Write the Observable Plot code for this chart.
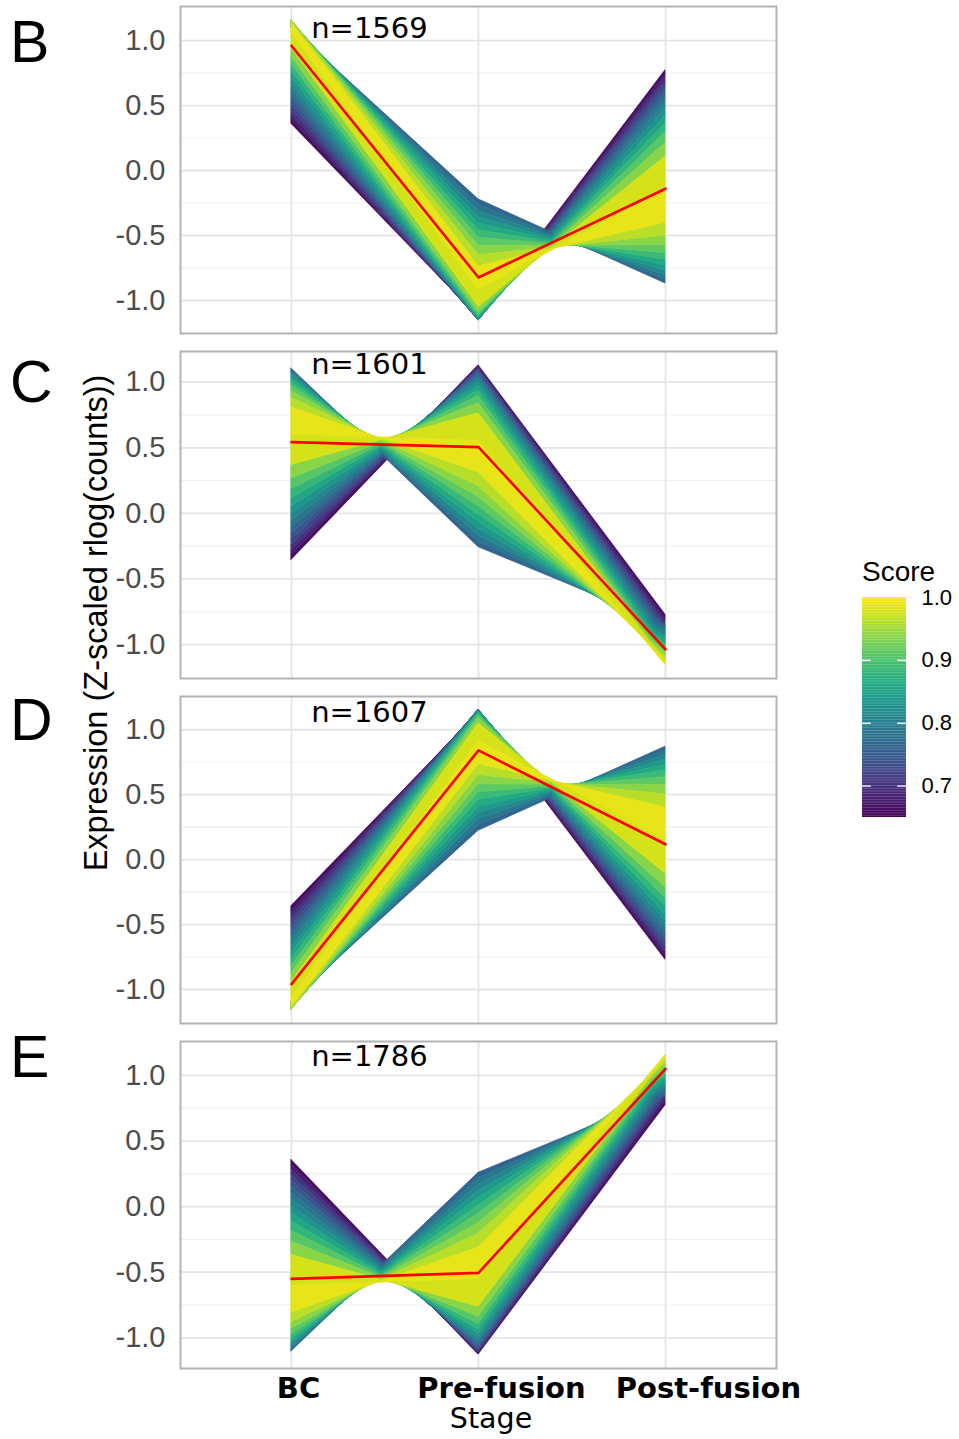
<!DOCTYPE html>
<html><head><meta charset="utf-8">
<script src="https://cdn.jsdelivr.net/npm/d3@7"></script>
<script src="https://cdn.jsdelivr.net/npm/@observablehq/plot@0.6"></script>
<style>
body{margin:0;background:#fff;}
#root{position:relative;width:959px;height:1439px;overflow:hidden;background:#fff;}
#root > svg{position:absolute;}
</style></head><body><div id="root"></div>
<script>
// ---------------- data ----------------
const stages = ["BC", "Pre-fusion", "Post-fusion"];
const panelNames = ["B", "C", "D", "E"];
const counts = [1569, 1601, 1607, 1786];
const yTicks = [-1, -0.5, 0, 0.5, 1];
const yMinor = [-0.75, -0.25, 0.25, 0.75];
const scoreTicks = [0.7, 0.8, 0.9, 1.0];

// mean (red) profiles: BC, Pre-fusion, Post-fusion
const meanB = [0.96, -0.823, -0.14];
const meanC = [0.543, 0.505, -1.037];
const meanD = [-0.959, 0.841, 0.118];
const meanE = [-0.551, -0.505, 1.05];

// fan edges read per score level: [score, BC, Pre-fusion, Post-fusion]
const bLong = [
  [1.000, 1.067, -0.916, -0.151], [0.954, 0.942, -1.049, 0.107], [0.922, 0.876, -1.090, 0.214],
  [0.894, 0.819, -1.114, 0.296], [0.868, 0.768, -1.131, 0.363], [0.843, 0.719, -1.142, 0.422],
  [0.820, 0.674, -1.149, 0.475], [0.797, 0.630, -1.153, 0.523], [0.775, 0.588, -1.155, 0.566],
  [0.753, 0.548, -1.154, 0.607], [0.732, 0.508, -1.152, 0.644], [0.711, 0.469, -1.148, 0.679],
  [0.690, 0.431, -1.143, 0.712], [0.670, 0.394, -1.137, 0.743], [0.650, 0.358, -1.130, 0.772]
];
const bShort = [
  [1.000, 1.067, -0.916, -0.151], [0.975, 1.138, -0.737, -0.401], [0.950, 1.151, -0.651, -0.501],
  [0.925, 1.155, -0.580, -0.574], [0.900, 1.153, -0.518, -0.635], [0.875, 1.147, -0.461, -0.686],
  [0.850, 1.140, -0.408, -0.731], [0.825, 1.130, -0.359, -0.771], [0.800, 1.119, -0.311, -0.807],
  [0.775, 1.106, -0.266, -0.840], [0.750, 1.092, -0.222, -0.870]
];
const cLong = [
  [1.000, 0.603, 0.551, -1.154], [0.954, 0.369, 0.763, -1.132], [0.922, 0.266, 0.840, -1.106],
  [0.894, 0.184, 0.895, -1.079], [0.868, 0.114, 0.938, -1.052], [0.843, 0.051, 0.973, -1.025],
  [0.820, -0.006, 1.003, -0.997], [0.797, -0.059, 1.028, -0.969], [0.775, -0.108, 1.050, -0.942],
  [0.753, -0.155, 1.068, -0.914], [0.732, -0.199, 1.084, -0.886], [0.711, -0.241, 1.098, -0.858],
  [0.690, -0.281, 1.110, -0.830], [0.670, -0.319, 1.121, -0.801], [0.650, -0.356, 1.129, -0.773]
];
const cShort = [
  [1.000, 0.603, 0.551, -1.154], [0.975, 0.807, 0.312, -1.119], [0.950, 0.881, 0.207, -1.087],
  [0.925, 0.932, 0.124, -1.056], [0.900, 0.972, 0.054, -1.026], [0.875, 1.005, -0.009, -0.995],
  [0.850, 1.032, -0.066, -0.965], [0.825, 1.054, -0.119, -0.935], [0.800, 1.073, -0.168, -0.905],
  [0.775, 1.090, -0.214, -0.876], [0.750, 1.104, -0.258, -0.846]
];
const dLong = [
  [1.000, -1.067, 0.916, 0.151], [0.954, -0.942, 1.049, -0.107], [0.922, -0.876, 1.090, -0.214],
  [0.894, -0.819, 1.114, -0.296], [0.868, -0.768, 1.131, -0.363], [0.843, -0.719, 1.142, -0.422],
  [0.820, -0.674, 1.149, -0.475], [0.797, -0.630, 1.153, -0.523], [0.775, -0.588, 1.155, -0.566],
  [0.753, -0.548, 1.154, -0.607], [0.732, -0.508, 1.152, -0.644], [0.711, -0.469, 1.148, -0.679],
  [0.690, -0.431, 1.143, -0.712], [0.670, -0.394, 1.137, -0.743], [0.650, -0.358, 1.130, -0.772]
];
const dShort = [
  [1.000, -1.067, 0.916, 0.151], [0.975, -1.138, 0.737, 0.401], [0.950, -1.151, 0.651, 0.501],
  [0.925, -1.155, 0.580, 0.574], [0.900, -1.153, 0.518, 0.635], [0.875, -1.147, 0.461, 0.686],
  [0.850, -1.140, 0.408, 0.731], [0.825, -1.130, 0.359, 0.771], [0.800, -1.119, 0.311, 0.807],
  [0.775, -1.106, 0.266, 0.840], [0.750, -1.092, 0.222, 0.870]
];
const eLong = [
  [1.000, -0.603, -0.551, 1.154], [0.954, -0.369, -0.763, 1.132], [0.922, -0.266, -0.840, 1.106],
  [0.894, -0.184, -0.895, 1.079], [0.868, -0.114, -0.938, 1.052], [0.843, -0.051, -0.973, 1.025],
  [0.820, 0.006, -1.003, 0.997], [0.797, 0.059, -1.028, 0.969], [0.775, 0.108, -1.050, 0.942],
  [0.753, 0.155, -1.068, 0.914], [0.732, 0.199, -1.084, 0.886], [0.711, 0.241, -1.098, 0.858],
  [0.690, 0.281, -1.110, 0.830], [0.670, 0.319, -1.121, 0.801], [0.650, 0.356, -1.129, 0.773]
];
const eShort = [
  [1.000, -0.603, -0.551, 1.154], [0.975, -0.807, -0.312, 1.119], [0.950, -0.881, -0.207, 1.087],
  [0.925, -0.932, -0.124, 1.056], [0.900, -0.972, -0.054, 1.026], [0.875, -1.005, 0.009, 0.995],
  [0.850, -1.032, 0.066, 0.965], [0.825, -1.054, 0.119, 0.935], [0.800, -1.073, 0.168, 0.905],
  [0.775, -1.090, 0.214, 0.876], [0.750, -1.104, 0.258, 0.846]
];

// ---------------- layout ----------------
const root = document.getElementById("root");
const SANS = "'Liberation Sans', Arial, sans-serif";
const DEJA = "'DejaVu Sans', Verdana, sans-serif";
const colorScale = {type: "sequential", scheme: "viridis", domain: [0.65, 1.0]};

function bandRows(lines, tag) {
  const rows = [];
  for (let i = 0; i < lines.length - 1; i++) {
    const a = lines[i], b = lines[i + 1];
    const s = (a[0] + b[0]) / 2;
    for (let k = 0; k < 3; k++) rows.push({band: tag + i, score: s, x: k, y1: a[k + 1], y2: b[k + 1]});
  }
  return rows;
}
function panelRows(longL, shortL) {
  const rows = [...bandRows(longL, "L"), ...bandRows(shortL, "S")];
  const groups = d3.groups(rows, d => d.band)
    .sort((p, q) => d3.ascending(p[1][0].score, q[1][0].score));
  return groups.flatMap(g => g[1]);
}

const panelCfg = [
  {long: bLong, short: bShort, mean: meanB, top: 0, h: 345, mb: 12, ydom: [-1.254, 1.262], nY: 1.09},
  {long: cLong, short: cShort, mean: meanC, top: 345, h: 345, mb: 12, ydom: [-1.259, 1.234], nY: 1.13},
  {long: dLong, short: dShort, mean: meanD, top: 690, h: 345, mb: 12, ydom: [-1.262, 1.256], nY: 1.133},
  {long: eLong, short: eShort, mean: meanE, top: 1035, h: 404, mb: 71, ydom: [-1.234, 1.259], nY: 1.14, xlabels: true}
];
const xLabelShift = [7, 23, 43];

panelCfg.forEach((cfg, p) => {
  const rows = panelRows(cfg.long, cfg.short);
  const mean = cfg.mean.map((v, k) => ({x: k, y: v}));
  const marks = [
    Plot.ruleY(yMinor, {stroke: "#efefef", strokeWidth: 1.1}),
    Plot.ruleY(yTicks, {stroke: "#e5e5e5", strokeWidth: 1.8}),
    Plot.ruleX([0, 1, 2], {stroke: "#e5e5e5", strokeWidth: 1.8}),
    Plot.area(rows, {x1: "x", y1: "y1", y2: "y2", z: "band", fill: "score", stroke: "score", strokeWidth: 0.7}),
    Plot.line(mean, {x: "x", y: "y", stroke: "#ff0000", strokeWidth: 2.6}),
    Plot.frame({stroke: "#b3b3b3", strokeWidth: 2}),
    Plot.axisY(yTicks, {tickSize: 0, tickPadding: 15, tickFormat: d => d.toFixed(1),
      fontSize: 29, fill: "#4d4d4d", fontFamily: SANS, label: null}),
    Plot.text([counts[p]], {x: 0.417, y: cfg.nY, text: d => "n=" + d, fontSize: 29,
      fontFamily: DEJA, fill: "black", textAnchor: "middle", lineAnchor: "middle"})
  ];
  if (cfg.xlabels) {
    stages.forEach((s, i) => marks.push(Plot.axisX([i], {tickSize: 0, tickPadding: 9,
      tickFormat: () => s, dx: xLabelShift[i], fontSize: 29, fontWeight: "bold",
      fontFamily: DEJA, fill: "black", label: null})));
  }
  const chart = Plot.plot({
    width: 959, height: cfg.h,
    marginLeft: 180, marginRight: 183, marginTop: 6, marginBottom: cfg.mb,
    x: cfg.xlabels ? {domain: [0, 2], range: [291, 665]} : {domain: [0, 2], range: [291, 665], axis: null},
    y: {domain: cfg.ydom},
    color: colorScale,
    style: {fontFamily: SANS, background: "transparent", overflow: "visible"},
    marks
  });
  chart.style.left = "0px";
  chart.style.top = cfg.top + "px";
  root.appendChild(chart);
});

// legend (colour bar)
const ramp = d3.range(0.65, 1.0, 0.0025);
const legend = Plot.plot({
  width: 97, height: 235,
  marginLeft: 0, marginRight: 53, marginTop: 7, marginBottom: 8,
  x: {domain: [0, 1], axis: null},
  y: {domain: [0.65, 1.0]},
  color: colorScale,
  style: {fontFamily: SANS, background: "transparent", overflow: "visible", color: "black"},
  marks: [
    Plot.rect(ramp, {x1: 0, x2: 1, y1: d => d, y2: d => Math.min(1, d + 0.0027), fill: d => d + 0.00125}),
    Plot.ruleY([0.7, 0.8, 0.9], {x1: 0, x2: 0.2, stroke: "white", strokeWidth: 1.3}),
    Plot.ruleY([0.7, 0.8, 0.9], {x1: 0.8, x2: 1, stroke: "white", strokeWidth: 1.3}),
    Plot.axisY(scoreTicks, {anchor: "right", tickSize: 0, tickPadding: 15,
      tickFormat: d => d.toFixed(1), fontSize: 22, fill: "black", fontFamily: SANS, label: null})
  ]
});
legend.style.left = "862px";
legend.style.top = "590px";
root.appendChild(legend);

// overlay text: panel letters, axis titles, legend title
const ov = d3.create("svg").attr("width", 959).attr("height", 1439)
  .style("left", "0px").style("top", "0px").style("pointer-events", "none");
const letterBase = [62, 402, 740, 1077];
panelNames.forEach((n, i) => ov.append("text").attr("x", 10).attr("y", letterBase[i])
  .attr("font-family", SANS).attr("font-size", 59).attr("fill", "black").text(n));
ov.append("text").attr("transform", "translate(107,623) rotate(-90)")
  .attr("text-anchor", "middle").attr("font-family", SANS).attr("font-size", 32.5)
  .attr("fill", "black").text("Expression (Z-scaled rlog(counts))");
ov.append("text").attr("x", 491).attr("y", 1428).attr("text-anchor", "middle")
  .attr("font-family", DEJA).attr("font-size", 28.5).attr("fill", "black").text("Stage");
ov.append("text").attr("x", 862).attr("y", 581)
  .attr("font-family", SANS).attr("font-size", 28).attr("fill", "black").text("Score");
root.appendChild(ov.node());
</script>
</body></html>
